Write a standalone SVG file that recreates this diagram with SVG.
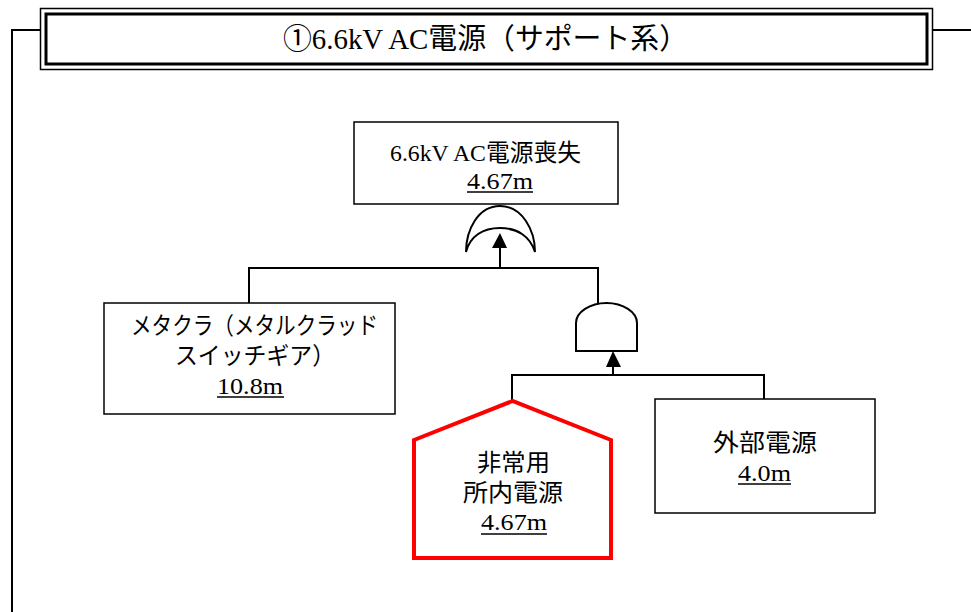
<svg xmlns="http://www.w3.org/2000/svg" width="971" height="612" viewBox="0 0 971 612">
<defs>
<style>
.t{font-family:"Liberation Serif","Noto Sans CJK JP",serif;font-size:24px;fill:#000;text-anchor:middle}
.box{fill:#fff;stroke:#000;stroke-width:1.5}
.ln{fill:none;stroke:#000;stroke-width:2}
.gate{fill:#fff;stroke:#000;stroke-width:2}
.ul{stroke:#000;stroke-width:1.5}
</style>
</defs>
<rect width="971" height="612" fill="#fff"/>

<g id="connectors">
<path class="ln" d="M40,30 H12 V612"/>
<path class="ln" d="M932,30 H971"/>
<path class="ln" d="M249,303 V268 H598 V303"/>
<path class="ln" d="M500,268 V248"/>
<path d="M492,248 L500,233 L507,248 Z" fill="#000"/>
<path class="ln" d="M512,401 V375 H764 V399"/>
<path class="ln" d="M613,375 V366"/>
<path d="M606,367 L613,351 L621,367 Z" fill="#000"/>
</g>

<g id="title">
<rect x="40.5" y="8.5" width="892" height="61" fill="#fff" stroke="#000" stroke-width="1.5"/>
<rect x="46" y="14" width="881" height="50" fill="none" stroke="#000" stroke-width="3"/>
<text class="t" x="485.5" y="49" style="font-size:29px" textLength="405" lengthAdjust="spacingAndGlyphs">①6.6kV AC電源（サポート系）</text>
</g>

<g id="top-event">
<rect class="box" x="354" y="122" width="264" height="82"/>
<text class="t" x="485.5" y="161" textLength="191" lengthAdjust="spacingAndGlyphs">6.6kV AC電源喪失</text>
<text class="t" x="500" y="189" textLength="66" lengthAdjust="spacingAndGlyphs">4.67m</text>
<line class="ul" x1="467" y1="192" x2="533" y2="192"/>
</g>

<g id="or-gate">
<path class="gate" d="M466,252 C466,230 478,206 500,206 C522,206 535,230 535,252 C530,236 517,228 500,228 C483,228 470,236 466,252 Z"/>
</g>

<g id="metaclad">
<rect class="box" x="104" y="303" width="291" height="111"/>
<text class="t" x="254.5" y="334" textLength="247" lengthAdjust="spacingAndGlyphs">メタクラ（メタルクラッド</text>
<text class="t" x="255" y="364" textLength="160" lengthAdjust="spacingAndGlyphs">スイッチギア）</text>
<text class="t" x="250" y="394" textLength="66" lengthAdjust="spacingAndGlyphs">10.8m</text>
<line class="ul" x1="217" y1="397" x2="284" y2="397"/>
</g>

<g id="and-gate">
<path class="gate" d="M576,351 V323 C576,312 590,303 606.5,303 C623,303 637,312 637,323 V351 Z"/>
</g>

<g id="emergency">
<path d="M512.5,401 L414,440 V558 H611 V440 Z" fill="#fff" stroke="#ff0000" stroke-width="4"/>
<text class="t" x="513.5" y="471" textLength="73" lengthAdjust="spacingAndGlyphs">非常用</text>
<text class="t" x="513" y="501" textLength="100" lengthAdjust="spacingAndGlyphs">所内電源</text>
<text class="t" x="514" y="530" textLength="66" lengthAdjust="spacingAndGlyphs">4.67m</text>
<line class="ul" x1="481" y1="534" x2="547" y2="534"/>
</g>

<g id="offsite">
<rect class="box" x="655" y="399" width="220" height="114"/>
<text class="t" x="765" y="451" textLength="104" lengthAdjust="spacingAndGlyphs">外部電源</text>
<text class="t" x="764.5" y="481" textLength="53" lengthAdjust="spacingAndGlyphs">4.0m</text>
<line class="ul" x1="738" y1="484" x2="791" y2="484"/>
</g>
</svg>
